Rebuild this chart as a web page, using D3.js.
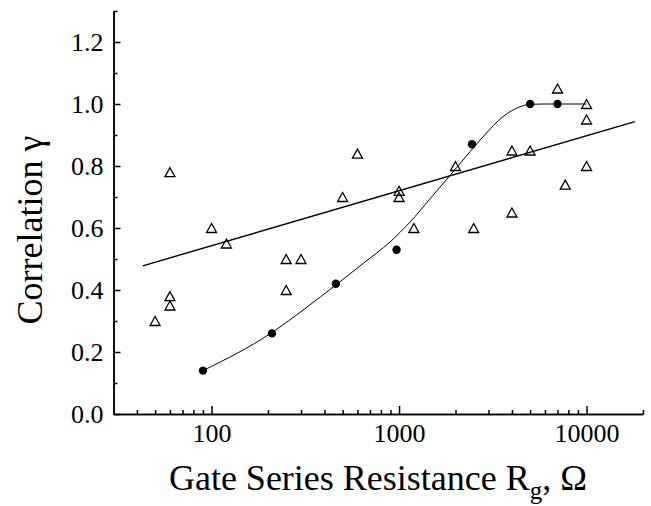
<!DOCTYPE html>
<html>
<head>
<meta charset="utf-8">
<script src="https://cdn.jsdelivr.net/npm/d3@7"></script>
<style>
  body { margin: 0; background: #fff; }
  text { font-family: "Liberation Serif", "Times New Roman", serif; fill: #000; }
</style>
</head>
<body>
<svg id="chart" width="651" height="506"></svg>
<script>
// filled circles: gate resistance (ohm) vs correlation
var circleR = [90, 210, 460, 970, 2450, 5000, 7000];
var circleG = [0.14, 0.26, 0.42, 0.53, 0.87, 1.00, 1.00];

// open triangles
var triR = [50, 60, 60, 60, 100, 120, 250, 300, 250, 600, 500, 1000, 1000, 1200,
            2000, 2500, 4000, 5000, 4000, 7000, 10000, 10000, 10000, 7700];
var triG = [0.30, 0.38, 0.35, 0.78, 0.60, 0.55, 0.50, 0.50, 0.40, 0.84, 0.70, 0.72, 0.70, 0.60,
            0.80, 0.60, 0.85, 0.85, 0.65, 1.05, 1.00, 0.95, 0.80, 0.74];

// straight fit line (log x) through the triangles, end points
var fitR = [43, 18100];
var fitG = [0.478, 0.943];

// smooth curve through the circles
var curveR = [90, 209, 315, 464, 645, 895, 1144, 1462, 1796, 2390, 2813, 3597, 4416, 4950, 6000, 10000];
var curveG = [0.14, 0.262, 0.340, 0.418, 0.486, 0.555, 0.619, 0.694, 0.757, 0.846, 0.895, 0.960, 0.991, 0.999, 1.0, 1.0];

// axis ticks
var xTickLabels = [100, 1000, 10000];
var yTickLabels = [0, 0.2, 0.4, 0.6, 0.8, 1.0, 1.2];

var svg = d3.select("#chart");

var x = d3.scaleLog()
  .domain([30, 20000])
  .range([113.5, 643]);

var y = d3.scaleLinear()
  .domain([0, 1.3])
  .range([414, 11]);

// minor ticks: 2..9 of every decade, and the odd tenths
var xMinor = [];
[10, 100, 1000, 10000].forEach(function(d) {
  for (var k = 2; k <= 9; k++) {
    var v = d * k;
    if (v >= 30 && v <= 20000) xMinor.push(v);
  }
});
var yMinor = d3.range(0.1, 1.31, 0.2);

// minor ticks first, no labels
svg.append("g")
    .attr("transform", "translate(0,414)")
    .call(d3.axisBottom(x).tickValues(xMinor).tickSizeInner(-4).tickSizeOuter(0).tickFormat(""));

svg.append("g")
    .attr("transform", "translate(113.5,0)")
    .call(d3.axisLeft(y).tickValues(yMinor).tickSizeInner(-4).tickSizeOuter(0).tickFormat(""));

// major ticks with labels
var xAxis = d3.axisBottom(x)
    .tickValues(xTickLabels)
    .tickSizeInner(-8)
    .tickSizeOuter(0)
    .tickPadding(10)
    .tickFormat(d3.format("d"));

var yAxis = d3.axisLeft(y)
    .tickValues(yTickLabels)
    .tickSizeInner(-7)
    .tickSizeOuter(0)
    .tickPadding(10)
    .tickFormat(d3.format(".1f"));

svg.append("g")
    .attr("transform", "translate(0,414)")
    .call(xAxis)
    .attr("font-family", "Liberation Serif, Times New Roman, serif")
    .attr("font-size", 26);

svg.append("g")
    .attr("transform", "translate(113.5,0)")
    .call(yAxis)
    .attr("font-family", "Liberation Serif, Times New Roman, serif")
    .attr("font-size", 26);

svg.selectAll(".domain, .tick line")
    .attr("stroke", "#000")
    .attr("stroke-width", 1.5);

// fit line
var line = d3.line()
    .x(function(d) { return x(d[0]); })
    .y(function(d) { return y(d[1]); });

svg.append("path")
    .datum(d3.zip(fitR, fitG))
    .attr("fill", "none")
    .attr("stroke", "#000")
    .attr("stroke-width", 1.4)
    .attr("d", line);

// smooth curve
svg.append("path")
    .datum(d3.zip(curveR, curveG))
    .attr("fill", "none")
    .attr("stroke", "#000")
    .attr("stroke-width", 1)
    .attr("d", line.curve(d3.curveMonotoneX));

// triangles (centered on their box)
svg.append("g")
  .selectAll("path")
  .data(d3.zip(triR, triG))
  .join("path")
    .attr("transform", function(d) { return "translate(" + x(d[0]) + "," + y(d[1]) + ")"; })
    .attr("d", "M0,-4.5L5,4.5L-5,4.5Z")
    .attr("fill", "none")
    .attr("stroke", "#000")
    .attr("stroke-width", 1.3);

// filled circles
svg.append("g")
  .selectAll("circle")
  .data(d3.zip(circleR, circleG))
  .join("circle")
    .attr("cx", function(d) { return x(d[0]); })
    .attr("cy", function(d) { return y(d[1]); })
    .attr("r", 4.2)
    .attr("fill", "#000");

// axis titles
var xt = svg.append("text")
    .attr("x", 378)
    .attr("y", 490)
    .attr("text-anchor", "middle")
    .style("font-size", "36px");
xt.append("tspan").text("Gate Series Resistance R");
xt.append("tspan").attr("dy", 9).style("font-size", "25px").text("g");
xt.append("tspan").attr("dy", -9).text(", Ω");

svg.append("text")
    .attr("transform", "translate(42,230) rotate(-90)")
    .attr("text-anchor", "middle")
    .style("font-size", "36px")
    .text("Correlation γ");
</script>
</body>
</html>
